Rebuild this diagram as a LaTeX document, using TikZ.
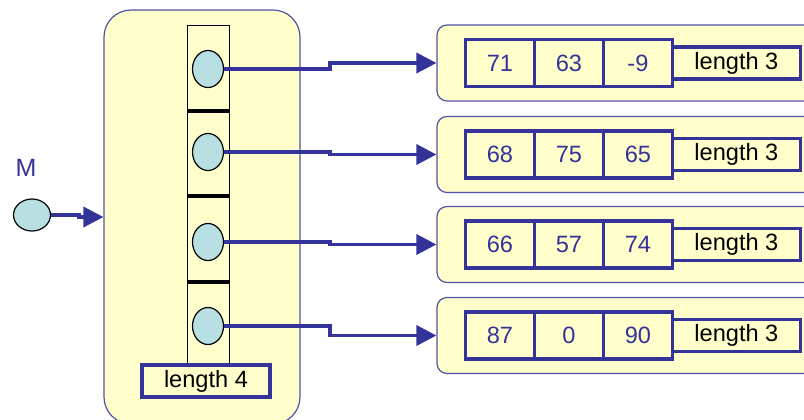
\documentclass[tikz,border=0pt]{standalone}
\usepackage{fontspec}
\setmainfont{Liberation Sans}
\usetikzlibrary{positioning,shapes.geometric,arrows.meta}
\definecolor{navy}{RGB}{51,51,153}
\definecolor{paper}{RGB}{255,255,204}
\definecolor{slotblue}{RGB}{184,223,226}
\tikzset{
	frame/.style={draw=navy!85, line width=0.6pt, fill=paper, rounded corners=5pt, inner sep=0pt},
	cell/.style={draw=navy, line width=1.8pt, fill=paper, minimum width=34.5pt, minimum height=23.5pt, inner sep=0pt, outer sep=0pt, text=navy},
	lenbox/.style={draw=navy, line width=1.8pt, fill=paper, minimum width=64pt, minimum height=16pt, inner sep=0pt, outer sep=0pt},
	slot/.style={ellipse, draw=black, line width=0.6pt, fill=slotblue, minimum width=15.5pt, minimum height=18.5pt, inner sep=0pt},
	ptr/.style={draw=navy, line width=1.8pt, -{Triangle[length=10pt,width=10pt]}},
	sep/.style={line width=1.8pt}
}
\begin{document}
\begin{tikzpicture}[x=0.5pt, y=-0.5pt, font=\fontsize{11.8}{14}\selectfont, line join=miter]
	\clip (0,0) rectangle (804,419);
	% outer array of length 4
	\node[frame, rounded corners=13.5pt, minimum width=98pt, minimum height=207pt] (outer) at (202,217) {};
	\node[draw=black, line width=0.5pt, fill=paper, minimum width=21pt, minimum height=170pt, inner sep=0pt] (col) at (208,195) {};
	\draw[sep] (col.west |- 0,111) -- (col.east |- 0,111);
	\draw[sep] (col.west |- 0,196) -- (col.east |- 0,196);
	\draw[sep] (col.west |- 0,282) -- (col.east |- 0,282);
	\node[slot] (p1) at (208,69) {};
	\node[slot] (p2) at (208,152) {};
	\node[slot] (p3) at (208,242) {};
	\node[slot] (p4) at (208,326) {};
	\node[lenbox] (len4) at (206,381) {length 4};
	% variable M
	\node[slot, minimum width=18.5pt, minimum height=16pt] (m) at (32,215) {};
	\node[text=navy, font=\fontsize{12.5}{14}\selectfont] (mlabel) at (26,168) {M};
	\draw[ptr] (m.east) -- ++(28,0) |- (outer.west);
	% inner arrays of length 3
	\node[frame, minimum width=189pt, minimum height=38pt] (row1) at (626,63) {};
	\node[cell, right=14.5pt of row1.west] (c11) {71};
	\node[cell, right=0pt of c11] (c12) {63};
	\node[cell, right=0pt of c12] (c13) {-9};
	\node[lenbox, right=0pt of c13] (len1) {length 3};
	\node[frame, minimum width=189pt, minimum height=38pt] (row2) at (626,154.5) {};
	\node[cell, right=14.5pt of row2.west] (c21) {68};
	\node[cell, right=0pt of c21] (c22) {75};
	\node[cell, right=0pt of c22] (c23) {65};
	\node[lenbox, right=0pt of c23] (len2) {length 3};
	\node[frame, minimum width=189pt, minimum height=38pt] (row3) at (626,244.5) {};
	\node[cell, right=14.5pt of row3.west] (c31) {66};
	\node[cell, right=0pt of c31] (c32) {57};
	\node[cell, right=0pt of c32] (c33) {74};
	\node[lenbox, right=0pt of c33] (len3) {length 3};
	\node[frame, minimum width=189pt, minimum height=38pt] (row4) at (626,335.5) {};
	\node[cell, right=14.5pt of row4.west] (c41) {87};
	\node[cell, right=0pt of c41] (c42) {0};
	\node[cell, right=0pt of c42] (c43) {90};
	\node[lenbox, right=0pt of c43] (len4b) {length 3};
	% pointers
	\draw[ptr] (p1.east) -- ++(106,0) |- (row1.west);
	\draw[ptr] (p2.east) -- ++(106,0) |- (row2.west);
	\draw[ptr] (p3.east) -- ++(106,0) |- (row3.west);
	\draw[ptr] (p4.east) -- ++(106,0) |- (row4.west);
\end{tikzpicture}
\end{document}
